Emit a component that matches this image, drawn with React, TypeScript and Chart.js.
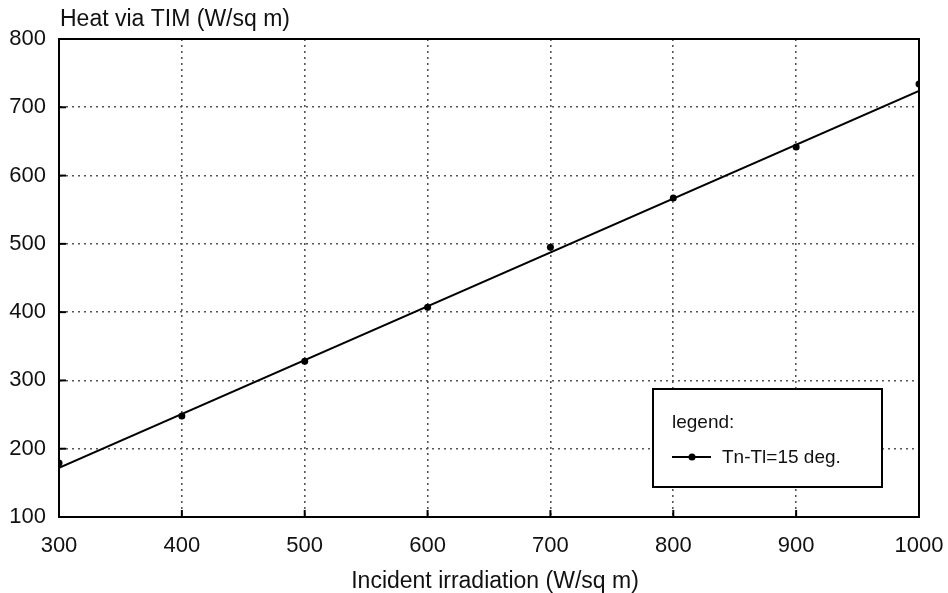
import React, { useEffect, useRef } from "react";
import { Chart, registerables } from "chart.js";

Chart.register(...registerables);

// Data
const irradiation = [300, 400, 500, 600, 700, 800, 900, 1000];
const heatPoints = [179, 248, 328, 407, 495, 567, 642, 734];
const fitX = [300, 1000];
const fitY = [172, 724];

const xTitle = "Incident irradiation (W/sq m)";
const yTitle = "Heat via TIM (W/sq m)";
const legendTitle = "legend:";
const seriesLabel = "Tn-Tl=15 deg.";

const FONT = "'Liberation Sans', Arial, Helvetica, sans-serif";

const decorPlugin = {
  id: "decor",
  afterDraw(chart: any) {
    const { ctx, chartArea } = chart;
    const { left, right, top, bottom } = chartArea;
    const xs = chart.scales.x;
    const ys = chart.scales.y;
    ctx.save();
    // frame
    ctx.strokeStyle = "#000";
    ctx.lineWidth = 2;
    ctx.setLineDash([]);
    ctx.strokeRect(left, top, right - left, bottom - top);
    // inner ticks
    xs.ticks.forEach((t: any) => {
      const px = xs.getPixelForValue(t.value);
      ctx.beginPath();
      ctx.moveTo(px, bottom);
      ctx.lineTo(px, bottom - 7);
      ctx.stroke();
    });
    ys.ticks.forEach((t: any) => {
      const py = ys.getPixelForValue(t.value);
      ctx.beginPath();
      ctx.moveTo(left, py);
      ctx.lineTo(left + 7, py);
      ctx.stroke();
    });
    // titles
    ctx.fillStyle = "#111";
    ctx.font = `23px ${FONT}`;
    ctx.textBaseline = "alphabetic";
    ctx.textAlign = "left";
    ctx.fillText(yTitle, 60, 26);
    ctx.textAlign = "center";
    ctx.fillText(xTitle, 495, 588);
    // legend box
    ctx.fillStyle = "#fff";
    ctx.fillRect(653, 389, 229, 98);
    ctx.strokeStyle = "#000";
    ctx.lineWidth = 2;
    ctx.strokeRect(653, 389, 229, 98);
    ctx.fillStyle = "#111";
    ctx.font = `19px ${FONT}`;
    ctx.textAlign = "left";
    ctx.fillText(legendTitle, 672, 428);
    ctx.beginPath();
    ctx.lineWidth = 2;
    ctx.moveTo(672, 457);
    ctx.lineTo(711, 457);
    ctx.stroke();
    ctx.beginPath();
    ctx.arc(692, 457, 3.5, 0, Math.PI * 2);
    ctx.fillStyle = "#000";
    ctx.fill();
    ctx.fillStyle = "#111";
    ctx.textBaseline = "middle";
    ctx.fillText(seriesLabel, 722, 458);
    ctx.restore();
  },
};

export default function App() {
  const ref = useRef<HTMLCanvasElement>(null);
  useEffect(() => {
    if (!ref.current) return;
    const chart = new Chart(ref.current, {
      type: "scatter",
      data: {
        datasets: [
          {
            label: "fit",
            data: fitX.map((x, i) => ({ x, y: fitY[i] })),
            showLine: true,
            borderColor: "#000",
            borderWidth: 2,
            pointRadius: 0,
          },
          {
            label: seriesLabel,
            data: irradiation.map((x, i) => ({ x, y: heatPoints[i] })),
            showLine: false,
            pointRadius: 3.5,
            pointBackgroundColor: "#000",
            pointBorderColor: "#000",
            pointBorderWidth: 0,
          },
        ],
      },
      options: {
        animation: false,
        responsive: false,
        maintainAspectRatio: false,
        layout: { padding: { top: 39, right: 29, left: 0, bottom: 0 } },
        plugins: {
          legend: { display: false },
          tooltip: { enabled: false },
          title: { display: false },
        },
        scales: {
          x: {
            type: "linear",
            min: 300,
            max: 1000,
            afterFit: (s: any) => {
              s.height = 76;
              s.paddingLeft = 0;
              s.paddingRight = 0;
            },
            ticks: {
              stepSize: 100,
              padding: 16,
              color: "#111",
              font: { family: FONT, size: 22 },
              maxRotation: 0,
              callback: (v: any) => String(v),
            },
            grid: {
              color: "#555",
              lineWidth: 1.6,
              drawTicks: false,
            },
            border: { display: true, color: "#000", width: 2, dash: [2, 4] },
          },
          y: {
            type: "linear",
            min: 100,
            max: 800,
            afterFit: (s: any) => {
              s.width = 59;
              s.paddingTop = 0;
              s.paddingBottom = 0;
            },
            ticks: {
              stepSize: 100,
              padding: 13,
              color: "#111",
              font: { family: FONT, size: 22 },
              callback: (v: any) => String(v),
            },
            grid: {
              color: "#555",
              lineWidth: 1.6,
              drawTicks: false,
            },
            border: { display: true, color: "#000", width: 2, dash: [2, 4] },
          },
        },
      },
      plugins: [decorPlugin],
    } as any);
    return () => chart.destroy();
  }, []);
  return (
    <div style={{ position: "fixed", left: 0, top: 0, width: 948, height: 593, background: "#fff" }}>
      <canvas ref={ref} width={948} height={593} style={{ width: 948, height: 593, display: "block" }} />
    </div>
  );
}
